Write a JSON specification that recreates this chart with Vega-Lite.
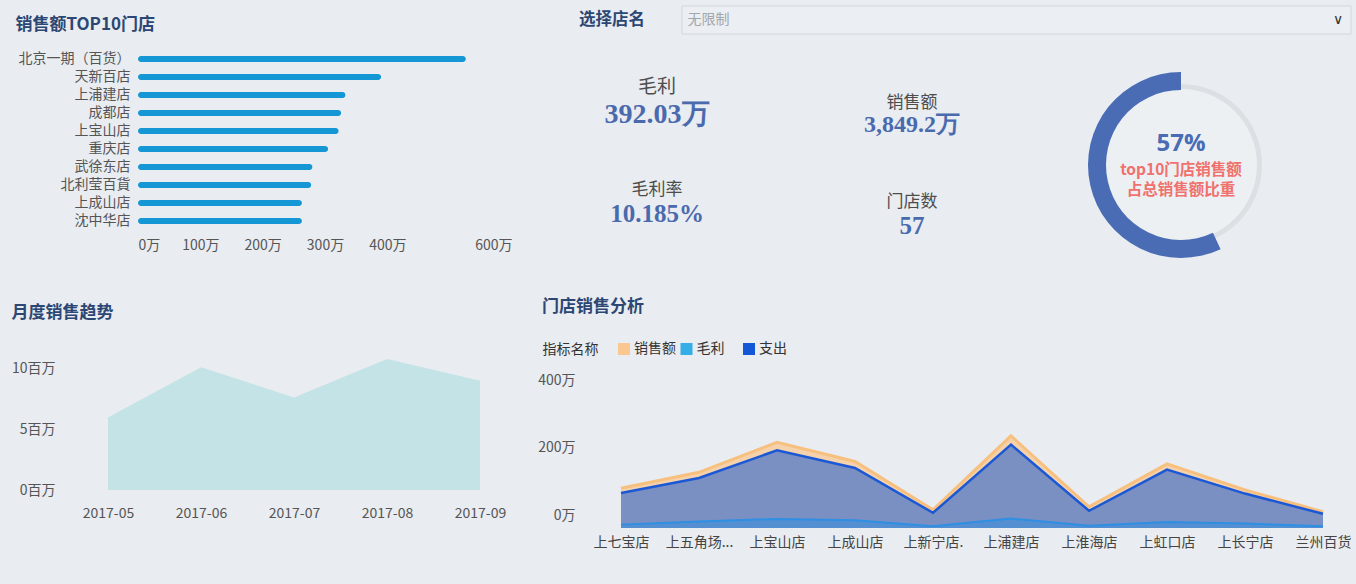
{
  "$schema": "https://vega.github.io/schema/vega-lite/v6.json",
  "background": "#e9ecf0",
  "padding": {"left": 11, "top": 5, "right": 5, "bottom": 35},
  "config": {
    "font": "Noto Sans CJK SC",
    "view": {"stroke": null},
    "axis": {"labelFont": "Noto Sans CJK SC", "labelColor": "#555555", "labelFontSize": 14, "domain": false, "ticks": false, "grid": false},
    "title": {"font": "Noto Sans CJK SC", "fontSize": 17, "fontWeight": "bold", "color": "#2c4773", "anchor": "start", "frame": "bounds"}
  },
  "spacing": 25,
  "hconcat": [
    {
      "spacing": 16,
      "vconcat": [
        {
          "width": 94,
          "height": 28,
          "data": {"values": [{"t": "销售额TOP10门店"}]},
          "mark": {"type": "text", "fontSize": 17, "fontWeight": "bold", "color": "#2c4773", "align": "right", "baseline": "middle", "dy": 5},
          "encoding": {"text": {"field": "t"}}
        },
        {
          "spacing": 52,
          "vconcat": [
            {
              "width": 404,
              "height": 180,
              "data": {"values": [
                {"store": "北京一期（百货）", "sales": 526},
                {"store": "天新百店", "sales": 390},
                {"store": "上浦建店", "sales": 333},
                {"store": "成都店", "sales": 326},
                {"store": "上宝山店", "sales": 322},
                {"store": "重庆店", "sales": 305},
                {"store": "武徐东店", "sales": 280},
                {"store": "北利莹百貨", "sales": 278},
                {"store": "上成山店", "sales": 263},
                {"store": "沈中华店", "sales": 263}
              ]},
              "mark": {"type": "bar", "height": 6, "cornerRadius": 3, "color": "#1597d6"},
              "encoding": {
                "y": {"field": "store", "type": "nominal", "sort": null, "title": null,
                      "axis": {"offset": -30, "labelPadding": 8}},
                "x": {"field": "sales", "type": "quantitative", "title": null,
                      "scale": {"domain": [0, 600], "range": [30, 404], "nice": false},
                      "axis": {"values": [0, 100, 200, 300, 400, 600], "labelExpr": "datum.value + '万'", "labelFlush": true, "labelPadding": 8}}
              }
            },
            {
              "title": {"text": "月度销售趋势", "offset": 34},
              "width": 372,
              "height": 134,
              "data": {"values": [
                {"month": "2017-05", "sales": 5.96},
                {"month": "2017-06", "sales": 10.07},
                {"month": "2017-07", "sales": 7.6},
                {"month": "2017-08", "sales": 10.75},
                {"month": "2017-09", "sales": 8.97}
              ]},
              "mark": {"type": "area", "color": "#c3e3e6"},
              "encoding": {
                "x": {"field": "month", "type": "ordinal", "title": null, "scale": {"type": "point", "padding": 0},
                      "axis": {"labelAngle": 0, "labelPadding": 16}},
                "y": {"field": "sales", "type": "quantitative", "title": null, "scale": {"domain": [0, 11], "nice": false},
                      "axis": {"values": [0, 5, 10], "labelExpr": "datum.value + '百万'", "labelPadding": 53}}
              }
            }
          ]
        }
      ]
    },
    {
      "spacing": 30,
      "vconcat": [
        {
          "spacing": 36,
          "hconcat": [
            {
              "width": 66,
              "height": 28,
              "data": {"values": [{"t": "选择店名"}]},
              "mark": {"type": "text", "fontSize": 16.5, "fontWeight": "bold", "color": "#2c4773", "baseline": "middle"},
              "encoding": {"text": {"field": "t"}}
            },
            {
              "width": 669,
              "height": 28,
              "data": {"values": [{"sel": "无限制"}]},
              "layer": [
                {
                  "mark": {"type": "rect", "fill": "#ebeef2", "stroke": "#d3d8de", "strokeWidth": 1},
                  "encoding": {
                    "y": {"field": "sel", "type": "nominal", "title": null, "scale": {"paddingInner": 0, "paddingOuter": 0},
                          "axis": {"orient": "left", "labelAlign": "left", "labelPadding": -5, "labelColor": "#a3a6ab", "labelFontSize": 14}}
                  }
                },
                {
                  "mark": {"type": "text", "text": "∨", "font": "DejaVu Sans", "fontSize": 14, "color": "#333333", "align": "center", "baseline": "middle", "dx": -13},
                  "encoding": {"x": {"value": "width"}}
                }
              ]
            }
          ]
        },
        {
          "spacing": 98,
          "hconcat": [
            {
              "width": 411,
              "height": 203,
              "data": {"values": [
                {"name": "毛利", "value": "392.03万", "col": "A", "row": "1"},
                {"name": "销售额", "value": "3,849.2万", "col": "B", "row": "1"},
                {"name": "毛利率", "value": "10.185%", "col": "A", "row": "2"},
                {"name": "门店数", "value": "57", "col": "B", "row": "2"}
              ]},
              "encoding": {
                "x": {"field": "col", "type": "nominal", "scale": {"type": "point", "domain": ["A", "B"], "padding": 0.306}, "axis": null},
                "y": {"field": "row", "type": "nominal", "scale": {"type": "point", "domain": ["1", "2"], "padding": 0.505, "align": 0.353}, "axis": null}
              },
              "layer": [
                {"transform": [{"filter": "datum.name == '毛利'"}], "mark": {"type": "text", "fontSize": 19, "color": "#4d4d4d", "baseline": "middle", "dy": -14}, "encoding": {"text": {"field": "name"}}},
                {"transform": [{"filter": "datum.name == '毛利'"}], "mark": {"type": "text", "font": "Liberation Serif", "fontWeight": "bold", "fontSize": 28, "color": "#4a6aae", "baseline": "middle", "dy": 14}, "encoding": {"text": {"field": "value"}}},
                {"transform": [{"filter": "datum.name == '销售额'"}], "mark": {"type": "text", "fontSize": 17, "color": "#4d4d4d", "baseline": "middle", "dy": 2}, "encoding": {"text": {"field": "name"}}},
                {"transform": [{"filter": "datum.name == '销售额'"}], "mark": {"type": "text", "font": "Liberation Serif", "fontWeight": "bold", "fontSize": 24, "color": "#4a6aae", "baseline": "middle", "dy": 24}, "encoding": {"text": {"field": "value"}}},
                {"transform": [{"filter": "datum.name == '毛利率'"}], "mark": {"type": "text", "fontSize": 17, "color": "#4d4d4d", "baseline": "middle", "dy": -12}, "encoding": {"text": {"field": "name"}}},
                {"transform": [{"filter": "datum.name == '毛利率'"}], "mark": {"type": "text", "font": "Liberation Serif", "fontWeight": "bold", "fontSize": 25, "color": "#4a6aae", "baseline": "middle", "dy": 12}, "encoding": {"text": {"field": "value"}}},
                {"transform": [{"filter": "datum.name == '门店数'"}], "mark": {"type": "text", "fontSize": 17, "color": "#4d4d4d", "baseline": "middle", "dy": 0}, "encoding": {"text": {"field": "name"}}},
                {"transform": [{"filter": "datum.name == '门店数'"}], "mark": {"type": "text", "font": "Liberation Serif", "fontWeight": "bold", "fontSize": 25, "color": "#4a6aae", "baseline": "middle", "dy": 24}, "encoding": {"text": {"field": "value"}}}
              ]
            },
            {
              "width": 186,
              "height": 200,
              "layer": [
                {"data": {"values": [{"v": 1}]}, "mark": {"type": "arc", "theta": 0, "theta2": 6.2832, "outerRadius": 81, "innerRadius": 0, "fill": "#dce0e5"}, "encoding": {}},
                {"data": {"values": [{"v": 1}]}, "mark": {"type": "arc", "theta": 0, "theta2": 6.2832, "outerRadius": 76, "innerRadius": 0, "fill": "#edf0f3"}, "encoding": {}},
                {
                  "data": {"values": [{"part": "other", "pct": 43}, {"part": "top10", "pct": 57}]},
                  "mark": {"type": "arc", "outerRadius": 93, "innerRadius": 75},
                  "encoding": {
                    "theta": {"field": "pct", "type": "quantitative"},
                    "fill": {"field": "part", "type": "nominal", "scale": {"domain": ["other", "top10"], "range": ["rgba(0,0,0,0)", "#4a6cb5"]}, "legend": null},
                    "order": {"field": "part", "sort": "ascending"}
                  }
                },
                {"data": {"values": [{"t": "57%"}]}, "mark": {"type": "text", "font": "Open Sans", "fontSize": 24, "fontWeight": "bold", "color": "#4a6cb5", "baseline": "middle", "dy": -21}, "encoding": {"text": {"field": "t"}}},
                {"data": {"values": [{"t": "top10门店销售额"}]}, "mark": {"type": "text", "fontSize": 15.5, "fontWeight": "bold", "color": "#f0716d", "baseline": "middle", "dy": 4.5}, "encoding": {"text": {"field": "t"}}},
                {"data": {"values": [{"t": "占总销售额比重"}]}, "mark": {"type": "text", "fontSize": 15.5, "fontWeight": "bold", "color": "#f0716d", "baseline": "middle", "dy": 24.5}, "encoding": {"text": {"field": "t"}}}
              ]
            }
          ]
        },
        {
          "spacing": 16,
          "vconcat": [
            {
              "title": {"text": "门店销售分析", "offset": 25},
              "width": 771,
              "height": 16,
              "data": {"values": [
                {"legend": "指标名称", "metric": "销售额"},
                {"legend": "指标名称", "metric": "毛利"},
                {"legend": "指标名称", "metric": "支出"}
              ]},
              "encoding": {
                "x": {"field": "metric", "type": "nominal", "sort": null, "title": null,
                      "scale": {"type": "point", "domain": ["销售额", "毛利", "支出"], "range": [45, 170], "padding": 0}, "axis": null},
                "y": {"field": "legend", "type": "nominal", "title": null,
                      "axis": {"labelAlign": "right", "labelPadding": -19, "labelColor": "#333333", "labelFontSize": 14}}
              },
              "layer": [
                {"mark": {"type": "point", "shape": "square", "size": 144, "filled": true, "opacity": 1},
                 "encoding": {"color": {"field": "metric", "type": "nominal", "scale": {"domain": ["销售额", "毛利", "支出"], "range": ["#f9c78f", "#35ade6", "#1457d6"]}, "legend": null}}},
                {"mark": {"type": "text", "align": "left", "baseline": "middle", "dx": 10, "fontSize": 14, "color": "#333333"},
                 "encoding": {"text": {"field": "metric"}}}
              ]
            },
            {
              "width": 771,
              "height": 135,
              "data": {"values": [
                {"store": "上七宝店", "销售额": 118, "毛利": 10, "支出": 104},
                {"store": "上五角场...", "销售额": 165, "毛利": 19, "支出": 148},
                {"store": "上宝山店", "销售额": 254, "毛利": 27, "支出": 230},
                {"store": "上成山店", "销售额": 197, "毛利": 23, "支出": 178},
                {"store": "上新宁店.", "销售额": 54, "毛利": 5, "支出": 45},
                {"store": "上浦建店", "销售额": 273, "毛利": 28, "支出": 247},
                {"store": "上淮海店", "销售额": 63, "毛利": 7, "支出": 51},
                {"store": "上虹口店", "销售额": 190, "毛利": 18, "支出": 173},
                {"store": "上长宁店", "销售额": 113, "毛利": 13, "支出": 102},
                {"store": "兰州百货", "销售额": 48, "毛利": 5, "支出": 42}
              ]},
              "encoding": {
                "x": {"field": "store", "type": "nominal", "sort": null, "title": null,
                      "scale": {"type": "point", "range": [42, 744], "padding": 0},
                      "axis": {"labelAngle": 0, "labelPadding": 7, "labelColor": "#444444"}}
              },
              "layer": [
                {"mark": {"type": "area", "color": "#f9c78f", "opacity": 0.7},
                 "encoding": {"y": {"field": "销售额", "type": "quantitative", "title": null, "scale": {"domain": [0, 400], "nice": false},
                                    "axis": {"values": [0, 200, 400], "labelExpr": "datum.value + '万'", "labelOffset": -13, "labelPadding": 4}}}},
                {"mark": {"type": "area", "color": "#1457d6", "opacity": 0.55},
                 "encoding": {"y": {"field": "支出", "type": "quantitative", "title": null}}},
                {"mark": {"type": "area", "color": "#3a8fdc", "opacity": 0.6},
                 "encoding": {"y": {"field": "毛利", "type": "quantitative", "title": null}}},
                {"mark": {"type": "line", "color": "#f8c07f", "strokeWidth": 3},
                 "encoding": {"y": {"field": "销售额", "type": "quantitative", "title": null}}},
                {"mark": {"type": "line", "color": "#1a58d6", "strokeWidth": 2.5},
                 "encoding": {"y": {"field": "支出", "type": "quantitative", "title": null}}},
                {"mark": {"type": "line", "color": "#2e8fe3", "strokeWidth": 2},
                 "encoding": {"y": {"field": "毛利", "type": "quantitative", "title": null}}}
              ]
            }
          ]
        }
      ]
    }
  ]
}
